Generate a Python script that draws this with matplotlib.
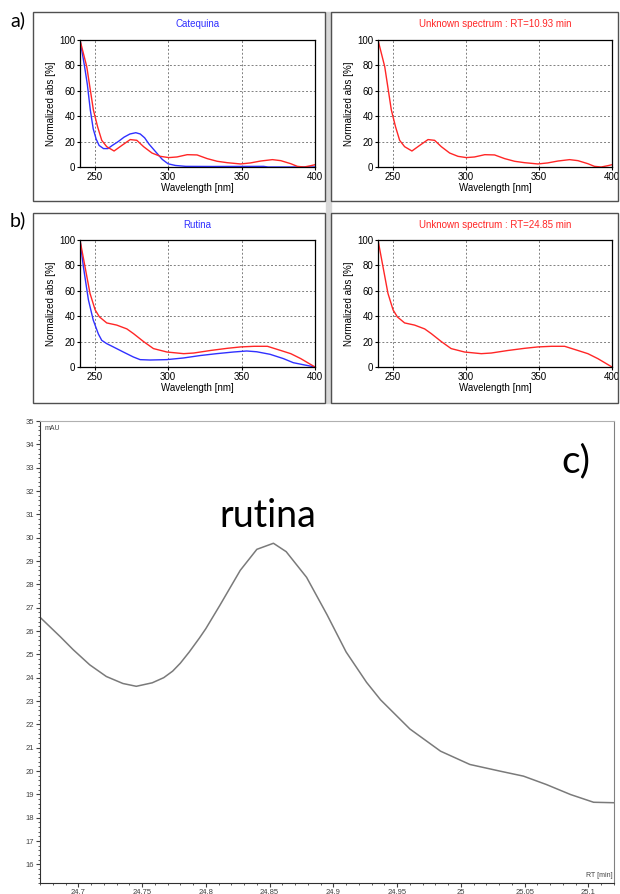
import numpy as np
import matplotlib.pyplot as plt
from matplotlib.patches import Rectangle
from matplotlib.ticker import MultipleLocator

# ---- spectra data ----
# a) Catequina standard (blue)
cat_wl = [240, 243, 245, 247, 249, 251, 253, 256, 259, 262, 266, 270, 274, 278, 281,
          284, 287, 290, 293, 296, 300, 305, 312, 330, 365, 368, 400]
cat_abs = [100, 80, 65, 45, 30, 22, 17, 14.5, 14.5, 17, 20, 23.5, 26, 27, 26,
           23, 18, 14, 10, 6, 2.5, 1.2, 0.5, 0.4, 0.5, 0, 0]
# a) unknown spectrum RT=10.93 (red)
unk1_wl = [240, 244.6, 249.1, 252, 254.8, 258.2, 263.2, 268.5, 274.2, 278.7, 283.3, 289,
           294.7, 300.4, 306, 313, 319.7, 326.6, 333.4, 340.2, 349.3, 356, 363, 371,
           376.7, 383.5, 388, 392.6, 397, 400]
unk1_abs = [100, 79, 45, 31.6, 21, 16, 12.6, 17, 21.6, 21, 16, 11,
            8.4, 7.4, 7.9, 9.7, 9.5, 6.6, 4.5, 3.4, 2.4, 3.2, 4.7, 5.8,
            5, 2.6, 0.5, 0, 1, 1.8]
# b) Rutina standard (blue)
rut_wl = [240, 242.3, 245.7, 249, 252.5, 254.8, 258.2, 262.7, 269.5, 276.3, 280.9, 287.7,
          299, 310.4, 321.7, 333, 344.4, 353.5, 360.3, 369.4, 378.5, 385.2, 392, 400]
rut_abs = [100, 79, 53, 37, 26, 21, 18.4, 15.8, 11.8, 7.9, 5.8, 5.5,
           5.8, 7.1, 9, 10.5, 11.8, 12.6, 12, 10, 6.6, 3.4, 1.8, 0]
# b) unknown spectrum RT=24.85 (red)
unk2_wl = [240, 243.4, 246.8, 250.3, 253.2, 258.2, 265, 271.9, 276.4, 283.3, 290, 299.2,
           310.6, 317.4, 328.8, 340.2, 349.3, 358.5, 367.6, 376.7, 383.5, 390.3, 400]
unk2_abs = [100, 79, 58, 45, 39.5, 34.7, 33, 30, 26.3, 20, 14.5, 11.8,
            10.5, 11, 13, 14.7, 15.8, 16.3, 16.3, 13, 10.5, 6.6, 0]

# ---- c) chromatogram ----
rt = [24.670, 24.686, 24.696, 24.709, 24.722, 24.735, 24.7455, 24.758, 24.767, 24.774,
      24.780, 24.787, 24.795, 24.800, 24.811, 24.827, 24.840, 24.853, 24.863, 24.879,
      24.895, 24.910, 24.926, 24.937, 24.960, 24.984, 25.007, 25.031, 25.049, 25.067,
      25.086, 25.104, 25.120]
mau = [26.59, 25.75, 25.20, 24.55, 24.05, 23.75, 23.63, 23.78, 24.00, 24.28,
       24.62, 25.10, 25.70, 26.10, 27.10, 28.60, 29.50, 29.76, 29.40, 28.30,
       26.70, 25.10, 23.80, 23.05, 21.80, 20.85, 20.28, 19.99, 19.78, 19.42,
       18.99, 18.66, 18.64]

BLUE = '#3030ff'
RED = '#ff2626'

plt.rcParams['font.family'] = ['Liberation Sans', 'DejaVu Sans']

fig = plt.figure(figsize=(6.2, 8.94), dpi=100)
W, H = 620.0, 894.0


def px_rect(x0, y0, x1, y1, **kw):
    # rectangle in pixel coords (top-left origin)
    r = Rectangle((x0 / W, 1 - y1 / H), (x1 - x0) / W, (y1 - y0) / H,
                  transform=fig.transFigure, fill=False, **kw)
    fig.patches.append(r)


def px_axes(x0, y0, x1, y1):
    return fig.add_axes([x0 / W, 1 - y1 / H, (x1 - x0) / W, (y1 - y0) / H])


def spectrum(ax, title, tcolor, curves):
    for wl, ab, col in curves:
        ax.plot(wl, ab, color=col, lw=1.0)
    ax.set_xlim(240, 400)
    ax.set_ylim(0, 100)
    ax.set_xticks([250, 300, 350, 400])
    ax.set_yticks([0, 20, 40, 60, 80, 100])
    ax.grid(True, color='#808080', ls=(0, (2, 2)), lw=0.7)
    ax.tick_params(labelsize=7, length=2.5, width=0.8, pad=1)
    ax.set_xlabel('Wavelength [nm]', fontsize=7, labelpad=1)
    ax.set_ylabel('Normalized abs [%]', fontsize=7, labelpad=2)
    ax.set_title(title, fontsize=7, color=tcolor, pad=9)
    for s in ax.spines.values():
        s.set_linewidth(0.9)


# window frames
for (y0, y1) in [(12, 201), (213, 403)]:
    px_rect(33, y0, 325, y1, edgecolor='#505050', lw=1.0)
    px_rect(331, y0, 618, y1, edgecolor='#505050', lw=1.0)
fig.patches.append(Rectangle((325.5 / W, 1 - 403 / H), 5 / W, 391 / H,
                             transform=fig.transFigure, color='#d8d8d8', zorder=-1))

ax1 = px_axes(80, 40, 315, 167)
spectrum(ax1, 'Catequina', BLUE, [(cat_wl, cat_abs, BLUE), (unk1_wl, unk1_abs, RED)])
ax2 = px_axes(378, 40, 612, 167)
spectrum(ax2, 'Unknown spectrum : RT=10.93 min', RED, [(unk1_wl, unk1_abs, RED)])
ax3 = px_axes(80, 240, 315, 367)
spectrum(ax3, 'Rutina', BLUE, [(rut_wl, rut_abs, BLUE), (unk2_wl, unk2_abs, RED)])
ax4 = px_axes(378, 240, 612, 367)
spectrum(ax4, 'Unknown spectrum : RT=24.85 min', RED, [(unk2_wl, unk2_abs, RED)])

fig.text(18 / W, 1 - 26 / H, 'a)', fontsize=14, family='Lato', ha='center', va='baseline')
fig.text(18 / W, 1 - 226 / H, 'b)', fontsize=14, family='Lato', ha='center', va='baseline')

# chromatogram
axc = px_axes(40, 421, 614, 883)
axc.plot(rt, mau, color='#7a7a7a', lw=1.1)
axc.set_xlim(24.67, 25.12)
axc.set_ylim(15.2, 35)
axc.xaxis.set_minor_locator(MultipleLocator(0.01))
axc.yaxis.set_major_locator(MultipleLocator(1))
axc.yaxis.set_minor_locator(MultipleLocator(0.2))
axc.set_xticks([24.7, 24.75, 24.8, 24.85, 24.9, 24.95, 25, 25.05, 25.1])
axc.set_xticklabels(['24.7', '24.75', '24.8', '24.85', '24.9', '24.95', '25', '25.05', '25.1'])
axc.tick_params(which='both', labelsize=5.5, labelcolor='#404040', color='#404040', pad=1)
axc.tick_params(which='major', length=3, width=0.8)
axc.tick_params(which='minor', length=1.5, width=0.6)
axc.spines['left'].set_color('#303030')
axc.spines['bottom'].set_color('#303030')
axc.spines['top'].set_color('#b0b0b0')
axc.spines['right'].set_color('#808080')
axc.text(0.008, 0.992, 'mAU', transform=axc.transAxes, fontsize=5, color='#404040',
         ha='left', va='top')
axc.text(0.997, 0.008, 'RT [min]', transform=axc.transAxes, fontsize=5, color='#404040',
         ha='right', va='bottom')

fig.text(268 / W, 1 - 527 / H, 'rutina', fontsize=27, family='Lato', ha='center', va='baseline')
fig.text(576 / W, 1 - 472 / H, 'c)', fontsize=28, family='Lato', ha='center', va='baseline')

plt.savefig('out.png', dpi=100)
